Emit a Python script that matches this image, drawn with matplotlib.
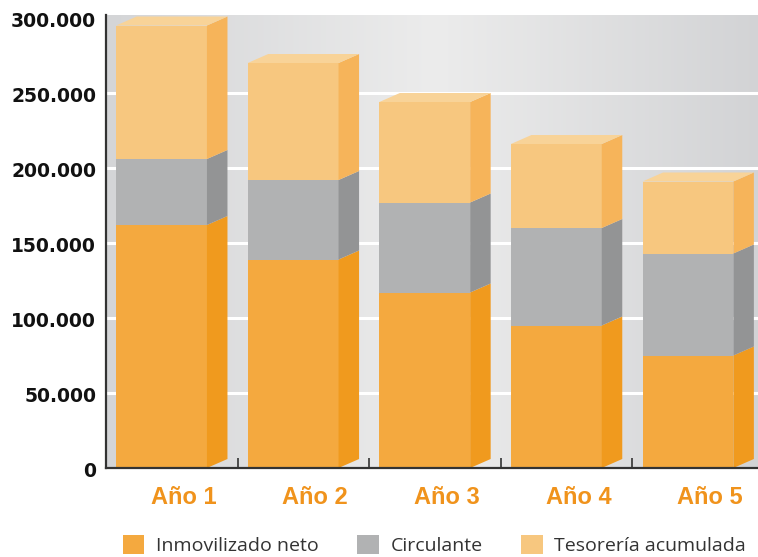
import numpy as np
import matplotlib.pyplot as plt
from matplotlib.patches import Polygon, Patch
from matplotlib.colors import LinearSegmentedColormap
import matplotlib.transforms as mtransforms

# data
years = ["Año 1", "Año 2", "Año 3", "Año 4", "Año 5"]
inmovilizado = [162000, 139000, 117000, 95000, 75000]
circulante = [44000, 53000, 60000, 65000, 68000]
tesoreria = [89000, 78000, 67000, 56000, 48000]
series_names = ["Inmovilizado neto", "Circulante", "Tesorería acumulada"]
yticks = [0, 50000, 100000, 150000, 200000, 250000, 300000]

# colours: front, side
front = ["#F4A93F", "#B1B2B3", "#F7C77F"]
side = ["#F09A1E", "#939495", "#F6B45A"]
top_col = "#F8D398"
orange_txt = "#F0931C"

W, H = 758, 557
fig = plt.figure(figsize=(W / 100, H / 100), dpi=100)
ax = fig.add_axes([106 / W, (H - 468) / H, (764 - 106) / W, (468 - 15) / H])
ax.set_xlim(0.5, 5.5)
ax.set_ylim(0, 302000)

# background gradient
cmap = LinearSegmentedColormap.from_list(
    "bg", [(0, "#d4d5d7"), (0.5, "#ececec"), (1, "#d2d3d5")])
ax.imshow(np.linspace(0, 1, 256)[None, :], cmap=cmap, aspect="auto",
          extent=[0, 1, 0, 1], transform=ax.transAxes, zorder=0)

for v in yticks[1:-1]:
    ax.axhline(v, color="white", lw=2.2, zorder=1)

# 3d-ish stacked bars
fw = 0.69    # front width
dx = 0.156   # depth in x
dy = 6000    # depth in y
segs = [inmovilizado, circulante, tesoreria]
for i in range(len(years)):
    c = i + 1
    xl = c - (fw + dx) / 2
    xr = xl + fw
    bottom = 0
    for k, s in enumerate(segs):
        t = bottom + s[i]
        ax.add_patch(Polygon([(xl, bottom), (xr, bottom), (xr, t), (xl, t)],
                             closed=True, fc=front[k], ec="none", zorder=3))
        ax.add_patch(Polygon([(xr, bottom), (xr + dx, bottom + dy),
                              (xr + dx, t + dy), (xr, t)],
                             closed=True, fc=side[k], ec="none", zorder=3))
        bottom = t
    ax.add_patch(Polygon([(xl, bottom), (xl + dx, bottom + dy),
                          (xr + dx, bottom + dy), (xr, bottom)],
                         closed=True, fc=top_col, ec="none", zorder=3))

# axes styling
for sp in ["top", "right"]:
    ax.spines[sp].set_visible(False)
for sp in ["left", "bottom"]:
    ax.spines[sp].set_color("#333333")
    ax.spines[sp].set_linewidth(1.6)
    ax.spines[sp].set_zorder(5)

ax.set_yticks(yticks)
ax.set_yticklabels([f"{v:,}".replace(",", ".") for v in yticks],
                   fontsize=13.5, fontweight="bold", family="DejaVu Sans",
                   color="#111111")
ax.tick_params(axis="y", length=0, pad=7)
off = mtransforms.ScaledTranslation(0, -1 / 72, fig.dpi_scale_trans)
for lab in ax.get_yticklabels():
    lab.set_transform(lab.get_transform() + off)

ax.set_xticks([1.5, 2.5, 3.5, 4.5])
ax.set_xticklabels([])
ax.tick_params(axis="x", direction="in", length=7, width=1.2, color="#333333")

trans = mtransforms.blended_transform_factory(ax.transData, ax.transAxes)
for i, y in enumerate(years):
    ax.text(i + 1 + 0.09, -0.065, y, transform=trans, ha="center", va="center",
            fontsize=17, fontweight="bold", color=orange_txt,
            family="Liberation Sans")

handles = [Patch(fc=front[k], ec="none") for k in range(3)]
fig.legend(handles, series_names, loc="center", ncol=3,
           bbox_to_anchor=(0.573, 0.021), frameon=False,
           prop={"family": "Open Sans", "size": 14},
           labelcolor="#333333", handlelength=1.1, handleheight=1.1,
           handletextpad=0.6, columnspacing=2.0, borderpad=0)

fig.savefig("out.png", dpi=100)
